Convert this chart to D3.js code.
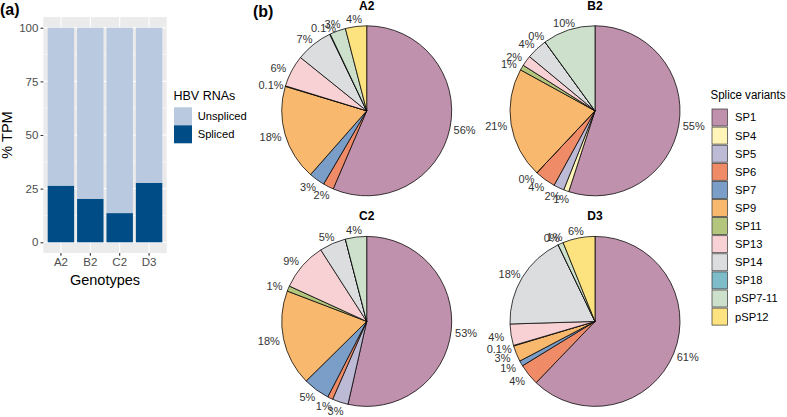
<!DOCTYPE html>
<html>
<head>
<meta charset="utf-8">
<script src="https://cdn.jsdelivr.net/npm/d3@7"></script>
<style>
  body { margin: 0; background: #fff; }
  svg { font-family: "Liberation Sans", Arial, Helvetica, sans-serif; }
</style>
</head>
<body>
<svg id="chart" width="787" height="417"></svg>
<script>
// ---------- Data ----------
const genotypes = ["A2", "B2", "C2", "D3"];
const rnaTypes = ["Unspliced", "Spliced"];
const splicedPct = [26.4, 20.3, 13.6, 27.7];
const unsplicedPct = splicedPct.map(v => 100 - v);
const yTicks = [0, 25, 50, 75, 100];

const variants = ["SP1", "SP4", "SP5", "SP6", "SP7", "SP9", "SP11", "SP13", "SP14", "SP18", "pSP7-11", "pSP12"];
// null = variant not detected in that genotype
const valuesA2 = [56, null, null, 2, 3, 18, 0.1, 6, 7, 0.1, 3, 4];
const valuesB2 = [55, 1, 2, 4, 0, 21, 1, 2, 4, 0, 10, null];
const valuesC2 = [53, null, 3, 1, 5, 18, 1, 9, 5, 0, 4, null];
const valuesD3 = [61, null, null, 4, 1, 3, 0.1, 4, 18, 0, 1, 6];
const unlabeled = { C2: ["SP18"] };

const variantColors = ["#bf91ac", "#fff5b8", "#bcbad4", "#ef8b67", "#7b9ec8", "#f8b96e",
                       "#b4c67e", "#f8d1d4", "#dcdddf", "#7fbcc9", "#cde0cc", "#fde380"];
const rnaColors = ["#b8c9e0", "#004c86"];

// ---------- Setup ----------
const svg = d3.select("#chart");
const font = "'Liberation Sans', Arial, Helvetica, sans-serif";

// ---------- Panel (a) ----------
const px0 = 43.3, px1 = 166.7, py0 = 17, py1 = 253;
const x = d3.scaleBand().domain(genotypes).range([px0, px1]).paddingInner(0.1).paddingOuter(0.15);
const y = d3.scaleLinear().domain([-5, 105]).range([py1, py0]);

const gA = svg.append("g");
gA.append("rect").attr("x", px0).attr("y", py0).attr("width", px1 - px0).attr("height", py1 - py0).attr("fill", "#ebebeb");
[12.5, 37.5, 62.5, 87.5].forEach(v => {
  gA.append("line").attr("x1", px0).attr("x2", px1).attr("y1", y(v)).attr("y2", y(v))
    .attr("stroke", "#fff").attr("stroke-width", 0.55);
});
yTicks.forEach(v => {
  gA.append("line").attr("x1", px0).attr("x2", px1).attr("y1", y(v)).attr("y2", y(v))
    .attr("stroke", "#fff").attr("stroke-width", 1.07);
});
genotypes.forEach(g => {
  const cx = x(g) + x.bandwidth() / 2;
  gA.append("line").attr("x1", cx).attr("x2", cx).attr("y1", py0).attr("y2", py1)
    .attr("stroke", "#fff").attr("stroke-width", 1.07);
});

const stackData = genotypes.map((g, i) => ({ g, Spliced: splicedPct[i], Unspliced: unsplicedPct[i] }));
const stack = d3.stack().keys(["Spliced", "Unspliced"])(stackData);
stack.forEach(layer => {
  const col = layer.key === "Spliced" ? rnaColors[1] : rnaColors[0];
  gA.selectAll(null).data(layer).join("rect")
    .attr("x", d => x(d.data.g))
    .attr("width", x.bandwidth())
    .attr("y", d => y(d[1]))
    .attr("height", d => y(d[0]) - y(d[1]))
    .attr("fill", col);
});

const yAxis = d3.axisLeft(y).tickValues(yTicks).tickSize(2.75).tickPadding(2.2);
const gy = gA.append("g").attr("transform", `translate(${px0},0)`).call(yAxis);
gy.select(".domain").remove();
gy.selectAll(".tick line").attr("stroke", "#333").attr("stroke-width", 1.07);
gy.selectAll(".tick text").attr("fill", "#4d4d4d").attr("font-size", 11.5).attr("font-family", font);

const xAxis = d3.axisBottom(x).tickSize(2.75).tickPadding(2.2);
const gx = gA.append("g").attr("transform", `translate(0,${py1})`).call(xAxis);
gx.select(".domain").remove();
gx.selectAll(".tick line").attr("stroke", "#333").attr("stroke-width", 1.07);
gx.selectAll(".tick text").attr("fill", "#4d4d4d").attr("font-size", 11.5).attr("font-family", font);

gA.append("text").attr("x", (px0 + px1) / 2).attr("y", 285).attr("text-anchor", "middle")
  .attr("font-size", 14.5).attr("fill", "#000").text("Genotypes");
gA.append("text").attr("transform", `translate(11.5,${(py0 + py1) / 2}) rotate(-90)`).attr("text-anchor", "middle")
  .attr("font-size", 14.5).attr("fill", "#000").text("% TPM");

// legend (a)
const lg = svg.append("g");
lg.append("text").attr("x", 173.5).attr("y", 99.5).attr("font-size", 12.5).attr("fill", "#000").text("HBV RNAs");
rnaTypes.forEach((t, i) => {
  lg.append("rect").attr("x", 174).attr("y", 107.3 + i * 18).attr("width", 18).attr("height", 18).attr("fill", rnaColors[i]);
  lg.append("text").attr("x", 197.7).attr("y", 116.5 + i * 18).attr("dy", "0.35em")
    .attr("font-size", 11.2).attr("fill", "#000").text(t);
});

svg.append("text").attr("x", 0).attr("y", 15).attr("font-size", 16).attr("font-weight", "bold").text("(a)");
svg.append("text").attr("x", 253).attr("y", 16.5).attr("font-size", 16).attr("font-weight", "bold").text("(b)");

// ---------- Panel (b) pies ----------
const pieSets = [
  { name: "A2", values: valuesA2, cx: 366.7, cy: 110.8, ty: 9.8 },
  { name: "B2", values: valuesB2, cx: 595, cy: 110.8, ty: 9.8 },
  { name: "C2", values: valuesC2, cx: 366.7, cy: 321.4, ty: 220.3 },
  { name: "D3", values: valuesD3, cx: 595, cy: 321.4, ty: 220.3 }
];
const r = 85;
const labelRx = 100, labelRy = 93;
const arc = d3.arc().innerRadius(0).outerRadius(r);
const pie = d3.pie().sort(null).value(d => d.v);
const fmt = v => (v > 0 && v < 1) ? `${v}%` : `${Math.round(v)}%`;

pieSets.forEach(ps => {
  const items = variants.map((name, i) => ({ name, v: ps.values[i], color: variantColors[i] }))
    .filter(d => d.v !== null);
  const arcs = pie(items);
  const g = svg.append("g").attr("transform", `translate(${ps.cx},${ps.cy})`);
  g.selectAll("path").data(arcs).join("path")
    .attr("d", arc)
    .attr("fill", d => d.data.color)
    .attr("stroke", "#000")
    .attr("stroke-width", 0.75)
    .attr("stroke-linejoin", "round");
  const hide = unlabeled[ps.name] || [];
  g.selectAll("text.lbl").data(arcs.filter(d => !hide.includes(d.data.name))).join("text")
    .attr("class", "lbl")
    .attr("x", d => labelRx * Math.sin((d.startAngle + d.endAngle) / 2))
    .attr("y", d => -labelRy * Math.cos((d.startAngle + d.endAngle) / 2) + 1)
    .attr("dy", "0.35em")
    .attr("text-anchor", "middle")
    .attr("font-size", 11)
    .attr("fill", "#333")
    .text(d => fmt(d.data.v));
  svg.append("text").attr("x", ps.cx).attr("y", ps.ty).attr("text-anchor", "middle")
    .attr("font-size", 12).attr("font-weight", "bold").text(ps.name);
});

// legend (b)
const lb = svg.append("g");
lb.append("text").attr("x", 710.5).attr("y", 99).attr("font-size", 12).attr("fill", "#000")
  .attr("textLength", 75).attr("lengthAdjust", "spacingAndGlyphs").text("Splice variants");
variants.forEach((v, i) => {
  lb.append("rect").attr("x", 712).attr("y", 109 + i * 18.1).attr("width", 15.5).attr("height", 17)
    .attr("fill", variantColors[i]).attr("stroke", "#333").attr("stroke-width", 0.7);
  lb.append("text").attr("x", 735).attr("y", 117.5 + i * 18.1).attr("dy", "0.35em")
    .attr("font-size", 11.2).attr("fill", "#000").text(v);
});
</script>
</body>
</html>
